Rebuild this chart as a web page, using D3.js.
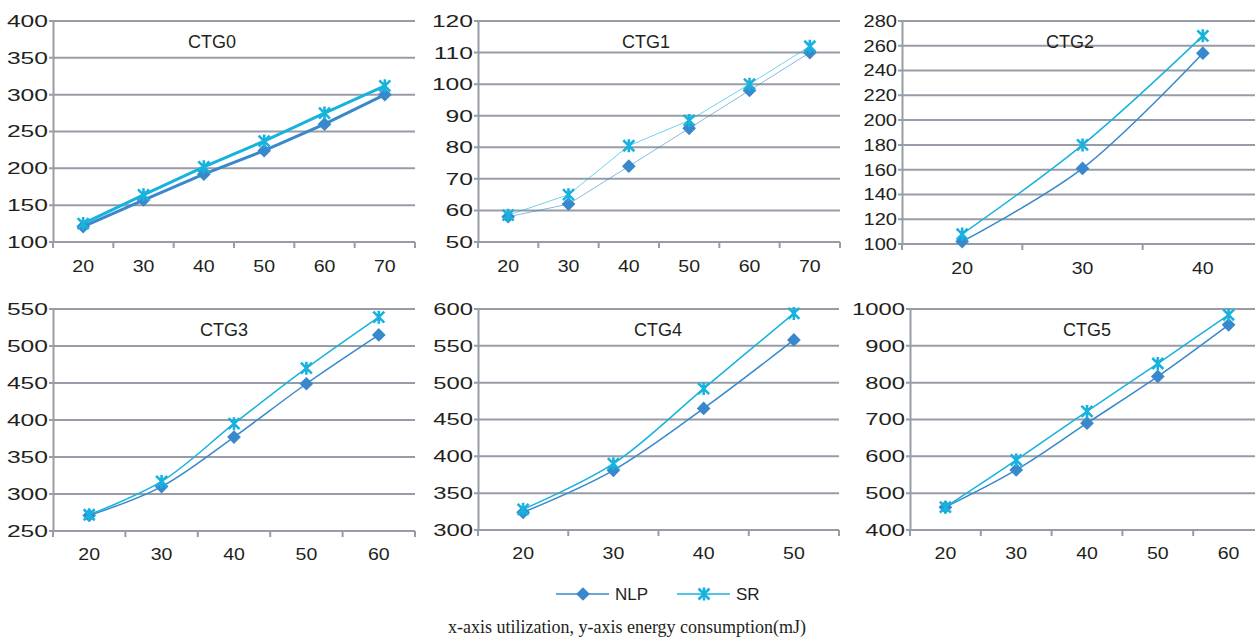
<!DOCTYPE html>
<html>
<head>
<meta charset="utf-8">
<script src="https://cdn.jsdelivr.net/npm/d3@7"></script>
<style>
  body { margin: 0; background: #fff; }
  svg { display: block; }
</style>
</head>
<body>
<script>
// utilization (x) and energy consumption (y) per task graph
var titles = ['CTG0', 'CTG1', 'CTG2', 'CTG3', 'CTG4', 'CTG5'];

var util0 = [20, 30, 40, 50, 60, 70];
var nlp0 = [121, 157, 192, 224, 260, 300];
var sr0 = [125, 164, 202, 237, 275, 312];
var yTicks0 = [100, 150, 200, 250, 300, 350, 400];

var util1 = [20, 30, 40, 50, 60, 70];
var nlp1 = [58, 62, 74, 86, 98, 110];
var sr1 = [58.5, 65, 80.5, 88.5, 100, 112];
var yTicks1 = [50, 60, 70, 80, 90, 100, 110, 120];

var util2 = [20, 30, 40];
var nlp2 = [102, 161, 254];
var sr2 = [108, 180, 268];
var yTicks2 = [100, 120, 140, 160, 180, 200, 220, 240, 260, 280];

var util3 = [20, 30, 40, 50, 60];
var nlp3 = [271, 310, 377, 449, 515];
var sr3 = [272, 317, 395, 470, 539];
var yTicks3 = [250, 300, 350, 400, 450, 500, 550];

var util4 = [20, 30, 40, 50];
var nlp4 = [324, 381, 465, 558];
var sr4 = [328, 390, 492, 594];
var yTicks4 = [300, 350, 400, 450, 500, 550, 600];

var util5 = [20, 30, 40, 50, 60];
var nlp5 = [462, 563, 690, 817, 957];
var sr5 = [462, 590, 722, 852, 984];
var yTicks5 = [400, 500, 600, 700, 800, 900, 1000];

var seriesNames = ['NLP', 'SR'];
var colors = ['#3a88cc', '#18b2de'];

var width = 1255, height = 642;
var gridColor = '#989ca6';
var textColor = '#231f20';

// plot boxes, left/top/right/bottom
var boxes = [
  [53, 21, 415, 242],
  [478, 21, 840, 242],
  [902, 21, 1263, 244],
  [53, 309, 415, 531],
  [478, 309, 839, 530],
  [910, 309, 1264, 530]
];
var titleX = [212, 646, 1070, 224, 658, 1087];
var yLabelStretch = [1.45, 1.45, 1.18, 1.45, 1.4, 1.4];
var lineWidths = [3, 1, 1.5, 1.5, 1.5, 1.5];
var lineOpacity = [1, 0.6, 1, 1, 1, 1];
var smooth = [false, false, true, true, true, true];

var panels = [
  {x: util0, nlp: nlp0, sr: sr0, ticks: yTicks0},
  {x: util1, nlp: nlp1, sr: sr1, ticks: yTicks1},
  {x: util2, nlp: nlp2, sr: sr2, ticks: yTicks2},
  {x: util3, nlp: nlp3, sr: sr3, ticks: yTicks3},
  {x: util4, nlp: nlp4, sr: sr4, ticks: yTicks4},
  {x: util5, nlp: nlp5, sr: sr5, ticks: yTicks5}
];

var svg = d3.select('body').append('svg')
  .attr('width', width)
  .attr('height', height)
  .style('font-family', '"Liberation Sans", Arial, sans-serif');

var diamond = d3.symbol().type(d3.symbolDiamond2).size(120);

function drawStar(g, color) {
  var s = 5.5;
  g.append('path')
    .attr('d', 'M' + (-s) + ',' + (-s) + 'L' + s + ',' + s +
      'M' + (-s) + ',' + s + 'L' + s + ',' + (-s) +
      'M0,' + (-s - 1) + 'L0,' + (s + 1))
    .attr('stroke', color)
    .attr('stroke-width', 2.6)
    .attr('fill', 'none');
}

panels.forEach(function(p, i) {
  var b = boxes[i];
  var g = svg.append('g');

  var x = d3.scaleBand()
    .domain(p.x)
    .range([b[0], b[2]]);

  var y = d3.scaleLinear()
    .domain([p.ticks[0], p.ticks[p.ticks.length - 1]])
    .range([b[3], b[1]]);

  // gridlines
  g.selectAll('.grid')
    .data(p.ticks)
    .enter()
    .append('line')
      .attr('x1', b[0] - 4)
      .attr('x2', b[2])
      .attr('y1', function(d) { return y(d); })
      .attr('y2', function(d) { return y(d); })
      .attr('stroke', gridColor)
      .attr('stroke-width', 2);

  // y axis
  var yAxis = d3.axisLeft(y).tickValues(p.ticks).tickSize(0).tickFormat(d3.format('d'));
  var ya = g.append('g')
    .attr('transform', 'translate(' + b[0] + ',0)')
    .call(yAxis);
  ya.select('.domain').attr('stroke', gridColor).attr('stroke-width', 2);
  ya.selectAll('text')
    .attr('x', -5 / yLabelStretch[i])
    .attr('transform', 'scale(' + yLabelStretch[i] + ',1)')
    .style('font-size', '17px')
    .attr('fill', textColor);

  // x axis, labels at band centres, ticks at band edges
  var xAxis = d3.axisBottom(x).tickSize(0).tickPadding(i < 3 ? 18 : 17);
  var xa = g.append('g')
    .attr('transform', 'translate(0,' + b[3] + ')')
    .call(xAxis);
  xa.select('.domain').remove();
  xa.selectAll('text')
    .attr('transform', 'scale(1.15,1)')
    .style('font-size', '17px')
    .attr('fill', textColor);

  var edges = p.x.map(function(d) { return x(d); }).concat([b[2]]);
  g.selectAll('.xt')
    .data(edges)
    .enter()
    .append('line')
      .attr('x1', function(d) { return d; })
      .attr('x2', function(d) { return d; })
      .attr('y1', b[3])
      .attr('y2', b[3] + 6)
      .attr('stroke', gridColor)
      .attr('stroke-width', 2);

  // title
  g.append('text')
    .attr('x', titleX[i])
    .attr('y', b[1] + 27)
    .attr('text-anchor', 'middle')
    .style('font-size', '18px')
    .attr('fill', textColor)
    .text(titles[i]);

  var cx = function(d, j) { return x(p.x[j]) + x.bandwidth() / 2; };

  [p.nlp, p.sr].forEach(function(vals, k) {
    var line = d3.line()
      .x(cx)
      .y(function(d) { return y(d); })
      .curve(smooth[i] ? d3.curveCatmullRom.alpha(0.5) : d3.curveLinear);

    g.append('path')
      .attr('d', line(vals))
      .attr('fill', 'none')
      .attr('stroke', colors[k])
      .attr('stroke-opacity', lineOpacity[i])
      .attr('stroke-width', lineWidths[i]);
  });

  // markers: diamonds for NLP, stars for SR
  g.selectAll('.nlp')
    .data(p.nlp)
    .enter()
    .append('path')
      .attr('d', diamond)
      .attr('transform', function(d, j) { return 'translate(' + cx(d, j) + ',' + y(d) + ')'; })
      .attr('fill', colors[0]);

  p.sr.forEach(function(d, j) {
    var m = g.append('g')
      .attr('transform', 'translate(' + cx(d, j) + ',' + y(d) + ')');
    drawStar(m, colors[1]);
  });
});

// legend
var legend = svg.append('g');
var legendX = [556, 677];
seriesNames.forEach(function(name, k) {
  var lx = legendX[k], ly = 594;
  legend.append('line')
    .attr('x1', lx).attr('x2', lx + 53)
    .attr('y1', ly).attr('y2', ly)
    .attr('stroke', colors[k])
    .attr('stroke-width', 1.5);
  var m = legend.append('g')
    .attr('transform', 'translate(' + (lx + 27) + ',' + ly + ')');
  if (k == 0) {
    m.append('path').attr('d', diamond).attr('fill', colors[0]);
  } else {
    drawStar(m, colors[1]);
  }
  legend.append('text')
    .attr('x', lx + 59)
    .attr('y', ly + 6)
    .style('font-size', '17px')
    .attr('fill', textColor)
    .text(name);
});

// caption
svg.append('text')
  .attr('x', 627)
  .attr('y', 633)
  .attr('text-anchor', 'middle')
  .style('font-family', '"Liberation Serif", "Times New Roman", serif')
  .style('font-size', '18px')
  .attr('fill', textColor)
  .text('x-axis utilization, y-axis energy consumption(mJ)');
</script>
</body>
</html>
